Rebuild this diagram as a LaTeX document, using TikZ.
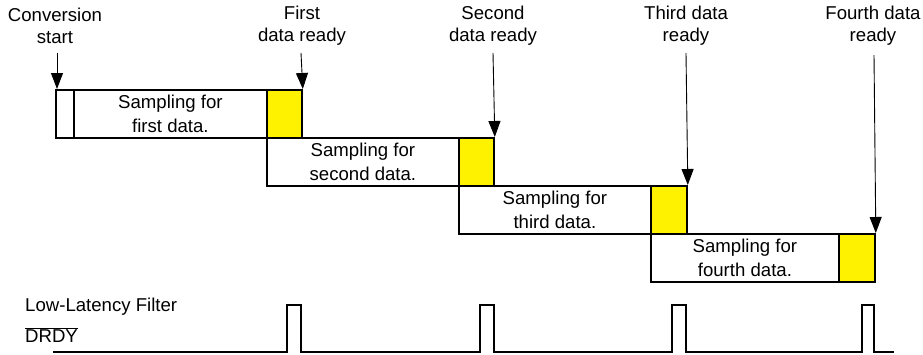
\documentclass[tikz,border=0pt]{standalone}
\usepackage{fontspec}
\setmainfont{Liberation Sans}
\usetikzlibrary{arrows.meta}
\begin{document}
\begin{tikzpicture}[x=1pt,y=-1pt,
  font=\fontsize{18.6}{23.5}\selectfont,
  cell/.style={draw, line width=1.8pt, inner sep=0pt, anchor=north west,
    minimum height=48pt, align=center},
  readycell/.style={cell, fill=yellow},
  lbl/.style={align=center, inner sep=0pt, font=\fontsize{18.6}{22}\selectfont},
  arr/.style={-{Triangle[width=12pt,length=16pt]}, line width=0.9pt},
  wave/.style={line width=1.8pt}]
\useasboundingbox (0,0) rectangle (923,354);

% conversion pipeline: sampling windows followed by a data-ready slot
\node[cell, minimum width=18pt] (pre) at (55,89) {};
\node[cell, minimum width=193pt] (s1) at (73,89) {Sampling for\\first data.};
\node[readycell, minimum width=35pt] (r1) at (266,89) {};

\node[cell, minimum width=192pt] (s2) at (266,137) {Sampling for\\second data.};
\node[readycell, minimum width=35pt] (r2) at (458,137) {};

\node[cell, minimum width=192pt] (s3) at (458,185) {Sampling for\\third data.};
\node[readycell, minimum width=36pt] (r3) at (650,185) {};

\node[cell, minimum width=188pt] (s4) at (650,233) {Sampling for\\fourth data.};
\node[readycell, minimum width=36pt] (r4) at (838,233) {};

% event labels and their markers
\node[lbl] (l0) at (55,26) {Conversion\\start};
\node[lbl] (l1) at (302,26) {First\\data ready};
\node[lbl] (l2) at (493,26) {Second\\data ready};
\node[lbl] (l3) at (686,26) {Third data\\ready};
\node[lbl] (l4) at (873,26) {Fourth data\\ready};

\coordinate (a0) at (57,53);
\coordinate (a1) at (301,53);
\coordinate (a2) at (493,53);
\coordinate (a3) at (686,53);
\coordinate (a4) at (874,55);
\draw[arr] (a0) -- (a0 |- pre.north);
\draw[arr] (a1) -- (r1.north east);
\draw[arr] (a2) -- (r2.north east);
\draw[arr] (a3) -- (r3.north east);
\draw[arr] (a4) -- (r4.north east);

% DRDY signal
\node[anchor=west, inner sep=0pt] (llf) at (25,307) {Low-Latency Filter};
\node[anchor=west, inner sep=0pt] (drdy) at (25,335) {$\overline{\mbox{DRDY}}$};
\coordinate (w0) at (53,352);
\coordinate (w1) at (894,352);
\draw[wave] (w0) -| (287,305) -| (301,352) -| (480,305) -| (494,352)
  -| (672,305) -| (686,352) -| (862,305) -| (874,352) -- (w1);
\end{tikzpicture}
\end{document}
